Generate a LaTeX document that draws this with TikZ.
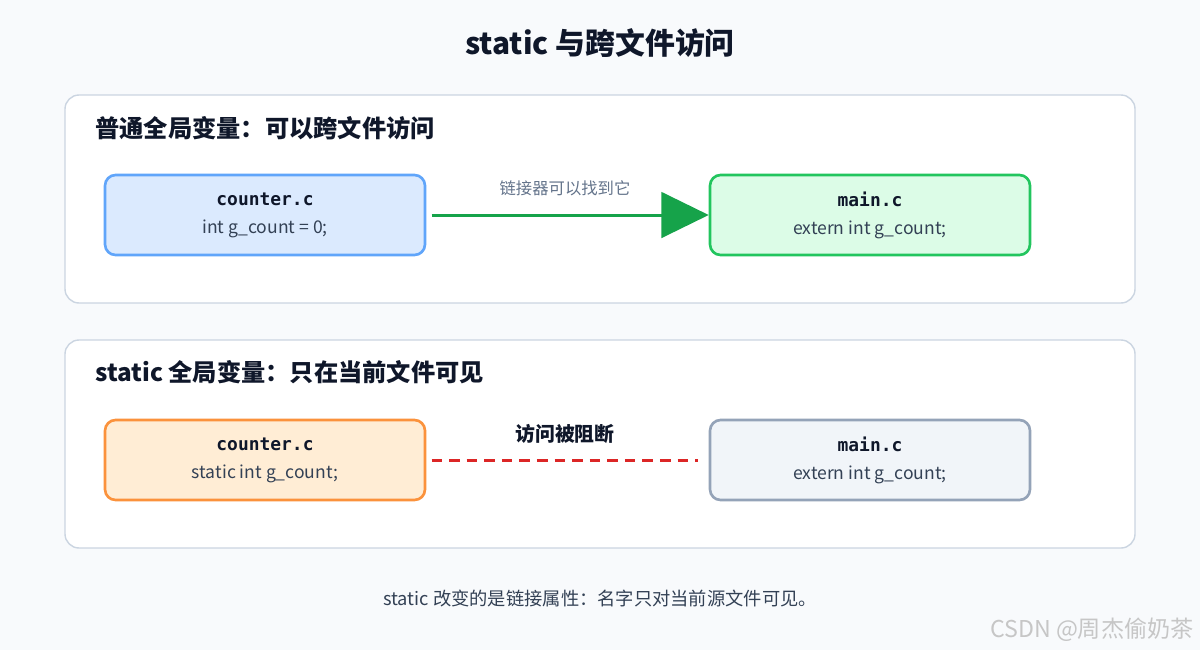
\documentclass[tikz,border=0pt]{standalone}
\usepackage{fontspec}
\setmainfont{Noto Sans CJK SC}
\newfontfamily\monof{DejaVu Sans Mono}
\newcommand\fnm[1]{{\monof\bfseries\fontsize{10.2}{12}\selectfont\color{txt}#1}}
\usetikzlibrary{arrows.meta}
\definecolor{bg}{HTML}{F8FAFC}
\definecolor{pborder}{HTML}{CBD5E1}
\definecolor{txt}{HTML}{0F172A}
\definecolor{body}{HTML}{334155}
\definecolor{muted}{HTML}{64748B}
\definecolor{b1}{HTML}{60A5FA}\definecolor{f1}{HTML}{DBEAFE}
\definecolor{b2}{HTML}{22C55E}\definecolor{f2}{HTML}{DCFCE7}
\definecolor{b3}{HTML}{FB923C}\definecolor{f3}{HTML}{FFEDD5}
\definecolor{b4}{HTML}{94A3B8}\definecolor{f4}{HTML}{F1F5F9}
\definecolor{arr}{HTML}{16A34A}\definecolor{red1}{HTML}{DC2626}
\begin{document}
\begin{tikzpicture}[x=0.02cm,y=-0.02cm,
  panel/.style={draw=pborder,line width=0.8pt,fill=white,rounded corners=8pt},
  file/.style={rounded corners=6pt,line width=1.5pt,minimum width=6.4cm,minimum height=1.6cm,align=center,font=\fontsize{10}{15.9}\selectfont\color{body}},
  ptitle/.style={anchor=west,inner sep=0pt,font=\fontsize{13.8}{16}\selectfont\bfseries\color{txt}}]
\fill[bg] (0,0) rectangle (1200,650);
\useasboundingbox (0,0) rectangle (1200,650);
\node (title) at (600,43) {\fontsize{17}{19}\selectfont\bfseries\color{txt} static 与跨文件访问};
\draw[panel] (65,95) rectangle (1135,303);
\draw[panel] (65,340) rectangle (1135,548);
\node[ptitle] (t1) at (95,128) {普通全局变量：可以跨文件访问};
\node[ptitle] (t2) at (95,372) {static 全局变量：只在当前文件可见};
\node[file,draw=b1,fill=f1] (c1) at (265,215) {\fnm{counter.c}\\int g\_count = 0;};
\node[file,draw=b2,fill=f2] (m1) at (870,215) {\fnm{main.c}\\extern int g\_count;};
\node[file,draw=b3,fill=f3] (c2) at (265,460) {\fnm{counter.c}\\static int g\_count;};
\node[file,draw=b4,fill=f4] (m2) at (870,460) {\fnm{main.c}\\extern int g\_count;};
\draw[line width=1.7pt,draw=arr,-{Triangle[length=27pt,width=26pt]}] ([xshift=3pt]c1.east) -- (m1.west);
\node[font=\fontsize{9.3}{11}\selectfont\color{muted}] (l1) at (565,188) {链接器可以找到它};
\draw[line width=1.7pt,draw=red1,dash pattern=on 6pt off 4pt] ([xshift=3pt]c2.east) -- ([xshift=-6pt]m2.west);
\node[font=\fontsize{11.3}{13}\selectfont\bfseries\color{txt}] (l2) at (565,434) {访问被阻断};
\node[font=\fontsize{10.4}{12}\selectfont\color{body}] (foot) at (600,598) {static 改变的是链接属性：名字只对当前源文件可见。};
\node[font=\fontsize{13.2}{15}\selectfont,text=gray!45] (wm) at (1092,630) {CSDN @周杰偷奶茶};
\end{tikzpicture}
\end{document}
